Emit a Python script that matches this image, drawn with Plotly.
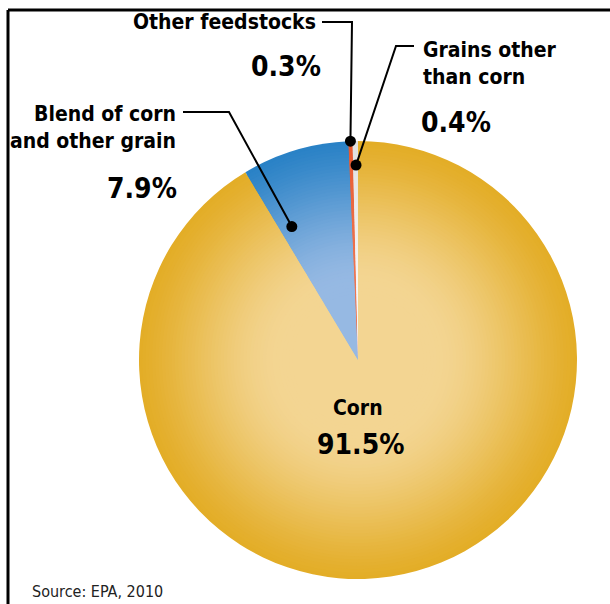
import numpy as np
import plotly.graph_objects as go

# ---- data ----
labels = ["Corn", "Blend of corn and other grain", "Other feedstocks", "Grains other than corn"]
display_labels = ["Corn", "Blend of corn<br>and other grain", "Other feedstocks", "Grains other<br>than corn"]
values = [91.5, 7.9, 0.3, 0.4]
source_text = "Source: EPA, 2010"

# ---- style ----
W, H = 610, 604
CX, CY, R = 358, 360, 219          # pie centre / radius in pixels
edge_colors = ["#E3AD27", "#2A82C6", "#E85A30", "#E0E0E0"]
center_colors = ["#F3D592", "#96B9E3", "#EE7550", "#F5F5F5"]
BOLD = "Liberation Sans Narrow, DejaVu Sans Condensed, Roboto Condensed, Roboto, sans-serif"
REG = "Liberation Sans Narrow, DejaVu Sans Condensed, Roboto, sans-serif"


def hex2rgb(h):
    h = h.lstrip("#")
    return np.array([int(h[i:i + 2], 16) for i in (0, 2, 4)], float)


def mix(c1, c2, s):
    c = hex2rgb(c1) * (1 - s) + hex2rgb(c2) * s
    return "rgb(%d,%d,%d)" % tuple(np.round(c))


def px2paper(x, y):
    return x / W, 1 - y / H


fig = go.Figure()
N = 48
ts = np.linspace(1.0, 0.3, N)
for i, t in enumerate(ts):
    u = np.clip((t - 0.35) / 0.65, 0, 1)
    s = u * u * (3 - 2 * u)
    s = 0.5 * s + 0.5 * u ** 1.6
    cols = [mix(c, e, s) for c, e in zip(center_colors, edge_colors)]
    x0, y1 = px2paper(CX - R * t, CY - R * t)
    x1, y0 = px2paper(CX + R * t, CY + R * t)
    fig.add_trace(go.Pie(
        labels=labels, values=values, sort=False, direction="clockwise", rotation=0,
        marker=dict(colors=cols, line=dict(width=0)), textinfo="none",
        hoverinfo="label+percent" if i == N - 1 else "skip",
        domain=dict(x=[x0, x1], y=[y0, y1]), showlegend=False,
    ))

# ---- geometry for callouts ----
total = sum(values)
starts = np.cumsum([0] + values[:-1]) / total * 360
spans = np.array(values) / total * 360


def pie_point(idx, frac_angle, frac_r):
    th = np.radians(starts[idx] + spans[idx] * frac_angle)
    x = CX + R * frac_r * np.sin(th)
    y = CY - R * frac_r * np.cos(th)
    return x, y

shapes = []
annotations = []

def add_callout(path_px, dot_px):
    pts = [px2paper(*p) for p in path_px] + [px2paper(*dot_px)]
    d = "M %f,%f " % pts[0] + " ".join("L %f,%f" % p for p in pts[1:])
    shapes.append(dict(type="path", path=d, xref="paper", yref="paper",
                       line=dict(color="black", width=2)))
    dx, dy = px2paper(*dot_px)
    shapes.append(dict(type="circle", xref="paper", yref="paper", xsizemode="pixel",
                       ysizemode="pixel", xanchor=dx, yanchor=dy, x0=-5.5, x1=5.5,
                       y0=-5.5, y1=5.5, fillcolor="black", line=dict(width=0)))

def pct(v):
    return "%.1f%%" % v

# Other feedstocks (idx 2)
dot = pie_point(2, 0.5, 1.0)
add_callout([(322, 22), (352, 22)], dot)
x, y = px2paper(318, 22)
annotations.append(dict(x=x, y=y, text=display_labels[2], xanchor="right", yanchor="middle",
                        font=dict(family=BOLD, size=21, color="black", weight="bold")))
x, y = px2paper(323, 66)
annotations.append(dict(x=x, y=y, text=pct(values[2]), xanchor="right", yanchor="middle",
                        font=dict(family=BOLD, size=28, color="black", weight="bold")))

# Grains other than corn (idx 3)
dot = pie_point(3, 0.6, 0.89)
add_callout([(414, 46), (396, 46)], dot)
x, y = px2paper(421, 63)
annotations.append(dict(x=x, y=y, text=display_labels[3], xanchor="left", yanchor="middle",
                        align="left", font=dict(family=BOLD, size=21, color="black", weight="bold")))
x, y = px2paper(419, 122)
annotations.append(dict(x=x, y=y, text=pct(values[3]), xanchor="left", yanchor="middle",
                        font=dict(family=BOLD, size=28, color="black", weight="bold")))

# Blend (idx 1)
dot = pie_point(1, 0.16, 0.68)
add_callout([(183, 112), (229, 112)], dot)
x, y = px2paper(178, 127)
annotations.append(dict(x=x, y=y, text=display_labels[1], xanchor="right", yanchor="middle",
                        align="right", font=dict(family=BOLD, size=21, color="black", weight="bold")))
x, y = px2paper(179, 188)
annotations.append(dict(x=x, y=y, text=pct(values[1]), xanchor="right", yanchor="middle",
                        font=dict(family=BOLD, size=28, color="black", weight="bold")))

# Corn (idx 0)
x, y = px2paper(CX, CY + 48)
annotations.append(dict(x=x, y=y, text=display_labels[0], xanchor="center", yanchor="middle",
                        font=dict(family=BOLD, size=21, color="black", weight="bold")))
x, y = px2paper(CX + 2, CY + 84)
annotations.append(dict(x=x, y=y, text=pct(values[0]), xanchor="center", yanchor="middle",
                        font=dict(family=BOLD, size=28, color="black", weight="bold")))

# source
x, y = px2paper(30, 591)
annotations.append(dict(x=x, y=y, text=source_text, xanchor="left", yanchor="middle",
                        font=dict(family=REG, size=16, color="#222")))

for a in annotations:
    a.update(xref="paper", yref="paper", showarrow=False)

# frame (left + top)
bx, by_top = px2paper(8, 10)
shapes.append(dict(type="line", xref="paper", yref="paper", x0=bx, x1=bx, y0=by_top, y1=0,
                   line=dict(color="black", width=3)))
shapes.append(dict(type="line", xref="paper", yref="paper", x0=bx, x1=1, y0=by_top, y1=by_top,
                   line=dict(color="black", width=3)))

fig.update_layout(width=W, height=H, margin=dict(l=0, r=0, t=0, b=0),
                  paper_bgcolor="white", plot_bgcolor="white",
                  shapes=shapes, annotations=annotations, showlegend=False)
fig.write_html("out.html", config={"displayModeBar": False},
               post_script="document.body.style.margin='0';document.body.style.overflow='hidden';")
